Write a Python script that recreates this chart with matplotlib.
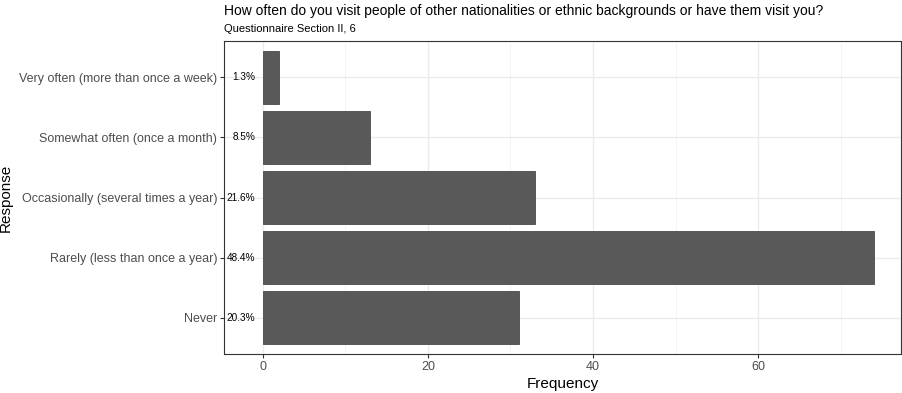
""" Frequency of visits, horizontal bar chart """

import matplotlib.pyplot as plt
import numpy as np

#!datos
categorias = [
    'Never',
    'Rarely (less than once a year)',
    'Occasionally (several times a year)',
    'Somewhat often (once a month)',
    'Very often (more than once a week)',
]
frecuencias = [31, 74, 33, 13, 2]
porcentajes = ['20.3%', '48.4%', '21.6%', '8.5%', '1.3%']

plt.rcParams['font.family'] = ['Liberation Sans', 'DejaVu Sans']

fig = plt.figure(figsize=(9.02, 3.93), dpi=100)
ax = fig.add_axes([0.2483, 0.0992, 0.7506, 0.7964])

y = np.arange(len(categorias))
ax.barh(y, frecuencias, height=0.88, color='#595959', edgecolor='#4a4a4a',
        linewidth=0.6, zorder=3)

for yi, p in zip(y, porcentajes):
    ax.text(-0.9, yi, p, ha='right', va='center', fontsize=7.2,
            color='black', zorder=4)

#!ejes y grilla (estilo theme_bw)
ax.set_xlim(-4.7, 77.3)
ax.set_ylim(-0.6, len(categorias) - 0.4)
ax.set_xticks([0, 20, 40, 60])
ax.set_xticks([10, 30, 50, 70], minor=True)
ax.set_yticks(y)
ax.set_yticklabels(categorias)
ax.grid(True, which='major', color='#ebebeb', linewidth=1.0, zorder=0)
ax.grid(True, which='minor', axis='x', color='#f2f2f2', linewidth=0.6, zorder=0)
ax.tick_params(which='major', length=3, color='#333333', labelsize=9,
               labelcolor='#4d4d4d', pad=2)
ax.tick_params(which='minor', length=0)
for s in ax.spines.values():
    s.set_color('#333333')
    s.set_linewidth(0.8)

ax.set_xlabel('Frequency', fontsize=11)
ax.xaxis.set_label_coords(0.5, -0.075)
ax.set_ylabel('Response', fontsize=11, va='center')
ax.yaxis.set_label_coords(-0.322, 0.5)

fig.text(0.2483, 0.963, 'How often do you visit people of other nationalities or '
         'ethnic backgrounds or have them visit you?', fontsize=10,
         ha='left', va='baseline')
fig.text(0.2483, 0.918, 'Questionnaire Section II, 6', fontsize=8,
         ha='left', va='baseline')

plt.savefig('out.png', dpi=100)
